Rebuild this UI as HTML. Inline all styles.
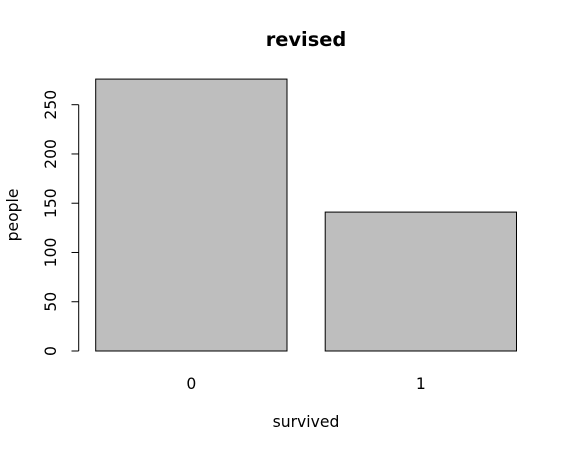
<!DOCTYPE html>
<html><head><meta charset="utf-8"><style>body{margin:0;background:#fff}svg{display:block;font-family:"DejaVu Sans","Liberation Sans",sans-serif}</style></head>
<body>
<svg id="c" width="574" height="452">
<text x="306" y="46" text-anchor="middle" font-size="19.4" font-weight="bold">revised</text>
<text x="306" y="427" text-anchor="middle" font-size="15.6">survived</text>
<text transform="translate(18,215) rotate(-90)" text-anchor="middle" font-size="15.6">people</text>
<g id="bars"></g><g id="yax"></g><g id="xl"></g>
</svg>
<script>
const categories=["0","1"];
const values=[276,141];
const yTicks=[0,50,100,150,200,250];
const ns="http://www.w3.org/2000/svg";
const y0=351,k=246.3/250;
const Y=v=>y0-v*k;
const bw=191.3;
const X=i=>95.7+i*229.5;
function mk(t,a,p){const e=document.createElementNS(ns,t);for(const q in a)e.setAttribute(q,a[q]);p.appendChild(e);return e;}
const gb=document.getElementById('bars'),gy=document.getElementById('yax'),gx=document.getElementById('xl');
values.forEach((v,i)=>{
 const r=mk('rect',{x:X(i),y:Y(v),width:bw,height:Y(0)-Y(v),fill:'#bebebe',stroke:'#000','stroke-width':1},gb);
 
 
 const t=mk('text',{x:X(i)+bw/2,y:389,'text-anchor':'middle','font-size':15.6},gx);t.textContent=categories[i];
 
 
});
const ax=mk('line',{x1:78.7,x2:78.7,y1:Y(0),y2:Y(yTicks[yTicks.length-1]),stroke:'#000'},gy);


yTicks.forEach(v=>{
 mk('line',{x1:71.5,x2:78.7,y1:Y(v),y2:Y(v),stroke:'#000'},gy);
 const t=mk('text',{transform:`translate(56,${Y(v)}) rotate(-90)`,'text-anchor':'middle','font-size':15.6},gy);t.textContent=v;
 
 
});
</script>
</body></html>
